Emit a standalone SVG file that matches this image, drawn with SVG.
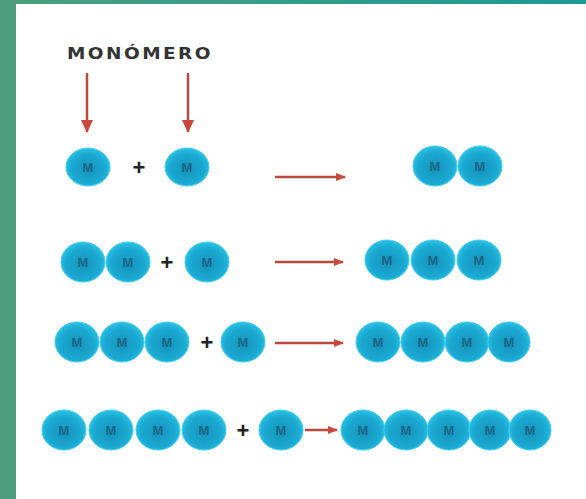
<svg xmlns="http://www.w3.org/2000/svg" width="586" height="499" viewBox="0 0 586 499">
<style>
.m{fill:url(#g);stroke:#3fd0ee;stroke-width:1}
.t{font-family:"Liberation Sans",Arial,sans-serif;font-size:13px;font-weight:bold;fill:#1b6585;text-anchor:middle}
.p{font-family:"Liberation Sans",Arial,sans-serif;font-size:22px;font-weight:bold;fill:#222;text-anchor:middle}
.a{stroke:#b9493c;stroke-width:2.5;fill:none}
</style>
<defs>
<linearGradient id="bg" x1="0" y1="0" x2="1" y2="0">
<stop offset="0" stop-color="#4e9e7e"/>
<stop offset="1" stop-color="#1c9a98"/>
</linearGradient>
<radialGradient id="g" cx="0.5" cy="0.55" r="0.55">
<stop offset="0" stop-color="#1593bb"/>
<stop offset="0.7" stop-color="#1aa9d2"/>
<stop offset="1" stop-color="#2cc2e4"/>
</radialGradient>
<marker id="ah" markerWidth="10" markerHeight="8" refX="9" refY="4" orient="auto" markerUnits="userSpaceOnUse">
<path d="M0,0 L10,4 L0,8 z" fill="#c8483a"/>
</marker>
<marker id="av" markerWidth="13" markerHeight="12" refX="12" refY="6" orient="auto" markerUnits="userSpaceOnUse">
<path d="M0,0 L13,6 L0,12 z" fill="#c8483a"/>
</marker>
</defs>
<rect x="0" y="0" width="586" height="499" fill="url(#bg)"/>
<rect x="16" y="4" width="570" height="495" fill="#ffffff"/>

<g id="label">
<text x="67" y="59" font-family="'DejaVu Sans',Verdana,sans-serif" font-size="15" font-weight="bold" fill="#333" letter-spacing="2" textLength="146" lengthAdjust="spacingAndGlyphs">MONÓMERO</text>
</g>

<g id="connectors">
<line class="a" x1="87" y1="73" x2="87" y2="132" marker-end="url(#av)"/>
<line class="a" x1="188" y1="73" x2="188" y2="132" marker-end="url(#av)"/>
<line class="a" x1="275" y1="177" x2="345" y2="177" marker-end="url(#ah)"/>
<line class="a" x1="275" y1="262" x2="343" y2="262" marker-end="url(#ah)"/>
<line class="a" x1="275" y1="343" x2="343" y2="343" marker-end="url(#ah)"/>
<line class="a" x1="305" y1="430" x2="337" y2="430" marker-end="url(#ah)"/>
</g>

<g id="row1">
<g id="r1-m1"><ellipse class="m" cx="88" cy="167" rx="22" ry="19"/><text class="t" x="88" y="172">M</text></g>
<text class="p" x="139" y="175">+</text>
<g id="r1-m2"><ellipse class="m" cx="187" cy="167" rx="22" ry="19"/><text class="t" x="187" y="172">M</text></g>
<g id="r1-prod">
<ellipse class="m" cx="435" cy="166" rx="22" ry="20"/><text class="t" x="435" y="171">M</text>
<ellipse class="m" cx="480" cy="166" rx="22" ry="20"/><text class="t" x="480" y="171">M</text>
</g>
</g>

<g id="row2">
<g id="r2-dimer">
<ellipse class="m" cx="83" cy="262" rx="22" ry="20"/><text class="t" x="83" y="267">M</text>
<ellipse class="m" cx="128" cy="262" rx="22" ry="20"/><text class="t" x="128" y="267">M</text>
</g>
<text class="p" x="167" y="270">+</text>
<g id="r2-m"><ellipse class="m" cx="207" cy="262" rx="22" ry="20"/><text class="t" x="207" y="267">M</text></g>
<g id="r2-prod">
<ellipse class="m" cx="387" cy="260" rx="22" ry="20"/><text class="t" x="387" y="265">M</text>
<ellipse class="m" cx="433" cy="260" rx="22" ry="20"/><text class="t" x="433" y="265">M</text>
<ellipse class="m" cx="479" cy="260" rx="22" ry="20"/><text class="t" x="479" y="265">M</text>
</g>
</g>

<g id="row3">
<g id="r3-trimer">
<ellipse class="m" cx="77" cy="342" rx="22" ry="20"/><text class="t" x="77" y="347">M</text>
<ellipse class="m" cx="122" cy="342" rx="22" ry="20"/><text class="t" x="122" y="347">M</text>
<ellipse class="m" cx="167" cy="342" rx="22" ry="20"/><text class="t" x="167" y="347">M</text>
</g>
<text class="p" x="207" y="350">+</text>
<g id="r3-m"><ellipse class="m" cx="243" cy="342" rx="22" ry="20"/><text class="t" x="243" y="347">M</text></g>
<g id="r3-prod">
<ellipse class="m" cx="378" cy="342" rx="22" ry="20"/><text class="t" x="378" y="347">M</text>
<ellipse class="m" cx="423" cy="342" rx="22" ry="20"/><text class="t" x="423" y="347">M</text>
<ellipse class="m" cx="467" cy="342" rx="22" ry="20"/><text class="t" x="467" y="347">M</text>
<ellipse class="m" cx="509" cy="342" rx="21" ry="20"/><text class="t" x="509" y="347">M</text>
</g>
</g>

<g id="row4">
<g id="r4-tetramer">
<ellipse class="m" cx="64" cy="430" rx="22" ry="20"/><text class="t" x="64" y="435">M</text>
<ellipse class="m" cx="111" cy="430" rx="22" ry="20"/><text class="t" x="111" y="435">M</text>
<ellipse class="m" cx="158" cy="430" rx="22" ry="20"/><text class="t" x="158" y="435">M</text>
<ellipse class="m" cx="204" cy="430" rx="22" ry="20"/><text class="t" x="204" y="435">M</text>
</g>
<text class="p" x="243" y="438">+</text>
<g id="r4-m"><ellipse class="m" cx="281" cy="430" rx="22" ry="20"/><text class="t" x="281" y="435">M</text></g>
<g id="r4-prod">
<ellipse class="m" cx="363" cy="430" rx="22" ry="20"/><text class="t" x="363" y="435">M</text>
<ellipse class="m" cx="406" cy="430" rx="22" ry="20"/><text class="t" x="406" y="435">M</text>
<ellipse class="m" cx="449" cy="430" rx="22" ry="20"/><text class="t" x="449" y="435">M</text>
<ellipse class="m" cx="490" cy="430" rx="21" ry="20"/><text class="t" x="490" y="435">M</text>
<ellipse class="m" cx="530" cy="430" rx="21" ry="20"/><text class="t" x="530" y="435">M</text>
</g>
</g>
</svg>
